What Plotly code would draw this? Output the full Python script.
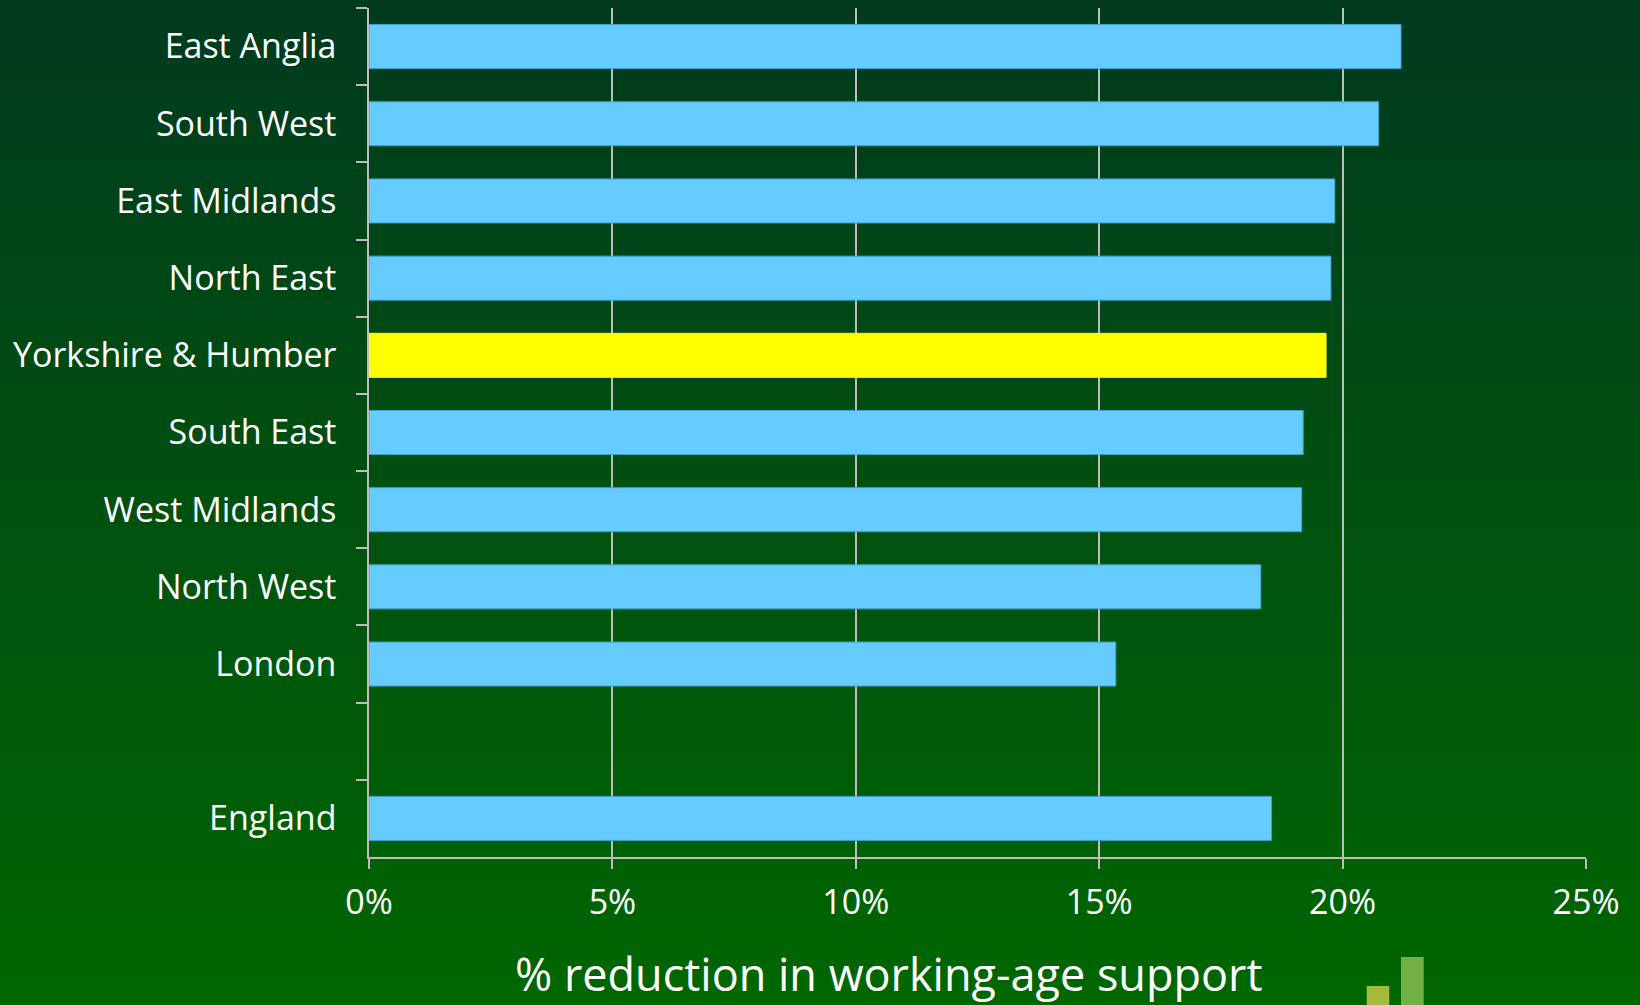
import plotly.graph_objects as go

# ---- data ----
regions = ["East Anglia", "South West", "East Midlands", "North East",
           "Yorkshire & Humber", "South East", "West Midlands", "North West",
           "London", " ", "England"]
reduction_pct = [21.2, 20.74, 19.84, 19.76, 19.66, 19.19, 19.16, 18.32, 15.34, None, 18.54]
highlight = "Yorkshire & Humber"
x_ticks = [0, 5, 10, 15, 20, 25]
x_tick_labels = ["0%", "5%", "10%", "15%", "20%", "25%"]
x_title = "% reduction in working-age support"

# ---- layout geometry (pixels) ----
W, H = 1640, 1005
L, R, T, B = 369, 1586, 8, 857
pw, ph = R - L, B - T


def px_x(px):
    return (px - L) / pw


def px_y(py):
    return (B - py) / ph


bar_colors = ["#FFFF00" if r == highlight else "#66CCFF" for r in regions]
line_colors = ["#FFFF00" if r == highlight else "#3FA3CF" for r in regions]

fig = go.Figure(go.Bar(
    x=reduction_pct, y=regions, orientation="h",
    marker=dict(color=bar_colors, line=dict(color=line_colors, width=1)),
    hoverinfo="skip",
))

# background vertical gradient
top_c = (0, 58, 31)
bot_c = (0, 103, 0)
shapes = []
step = 5
for py in range(0, H, step):
    t = (py + step / 2) / H
    c = tuple(round(top_c[i] + (bot_c[i] - top_c[i]) * t) for i in range(3))
    shapes.append(dict(type="rect", xref="paper", yref="paper",
                       x0=px_x(-5), x1=px_x(W + 5),
                       y0=px_y(py + step + 0.5), y1=px_y(py),
                       fillcolor="rgb(%d,%d,%d)" % c, line=dict(width=0),
                       layer="below"))
# decorative logo bars bottom-right
shapes.append(dict(type="rect", xref="paper", yref="paper",
                   x0=px_x(1366.7), x1=px_x(1389.3), y0=px_y(1010), y1=px_y(986),
                   fillcolor="#A3BA3C", line=dict(width=0), layer="above"))
shapes.append(dict(type="rect", xref="paper", yref="paper",
                   x0=px_x(1401), x1=px_x(1423.7), y0=px_y(1010), y1=px_y(957),
                   fillcolor="#72AF46", line=dict(width=0), layer="above"))

FONT = "Open Sans"
grid = "#BDBDBD"

fig.update_layout(
    width=W, height=H,
    margin=dict(l=L, r=W - R, t=T, b=H - B, pad=0),
    paper_bgcolor="#004d15",
    plot_bgcolor="rgba(0,0,0,0)",
    showlegend=False,
    bargap=0.43,
    shapes=shapes,
    font=dict(family=FONT, color="white", size=34),
    xaxis=dict(range=[0, 25], tickmode="array", tickvals=x_ticks, ticktext=x_tick_labels,
               showgrid=True, gridcolor=grid, gridwidth=1.5,
               zeroline=False, showline=True, linecolor=grid, linewidth=1.5,
               ticks="outside", ticklen=10, tickcolor=grid, tickwidth=1.5,
               tickfont=dict(family=FONT, size=34, color="white"),
               ticklabelstandoff=4, fixedrange=True),
    yaxis=dict(categoryorder="array", categoryarray=regions, autorange="reversed",
               showgrid=False, zeroline=False, showline=True, linecolor=grid,
               linewidth=1.5, ticks="outside", ticklen=11, tickcolor=grid,
               tickwidth=1.5, tickson="boundaries",
               tickfont=dict(family=FONT, size=34, color="white"),
               ticklabelstandoff=24, fixedrange=True),
    annotations=[dict(text=x_title, xref="paper", yref="paper",
                      x=px_x(889), y=px_y(1006), xanchor="center", yanchor="bottom",
                      showarrow=False,
                      font=dict(family=FONT, size=45, color="white"))],
)

fig.write_html("out.html", config={"displayModeBar": False},
               post_script="document.body.style.margin='0';document.body.style.overflow='hidden';")
